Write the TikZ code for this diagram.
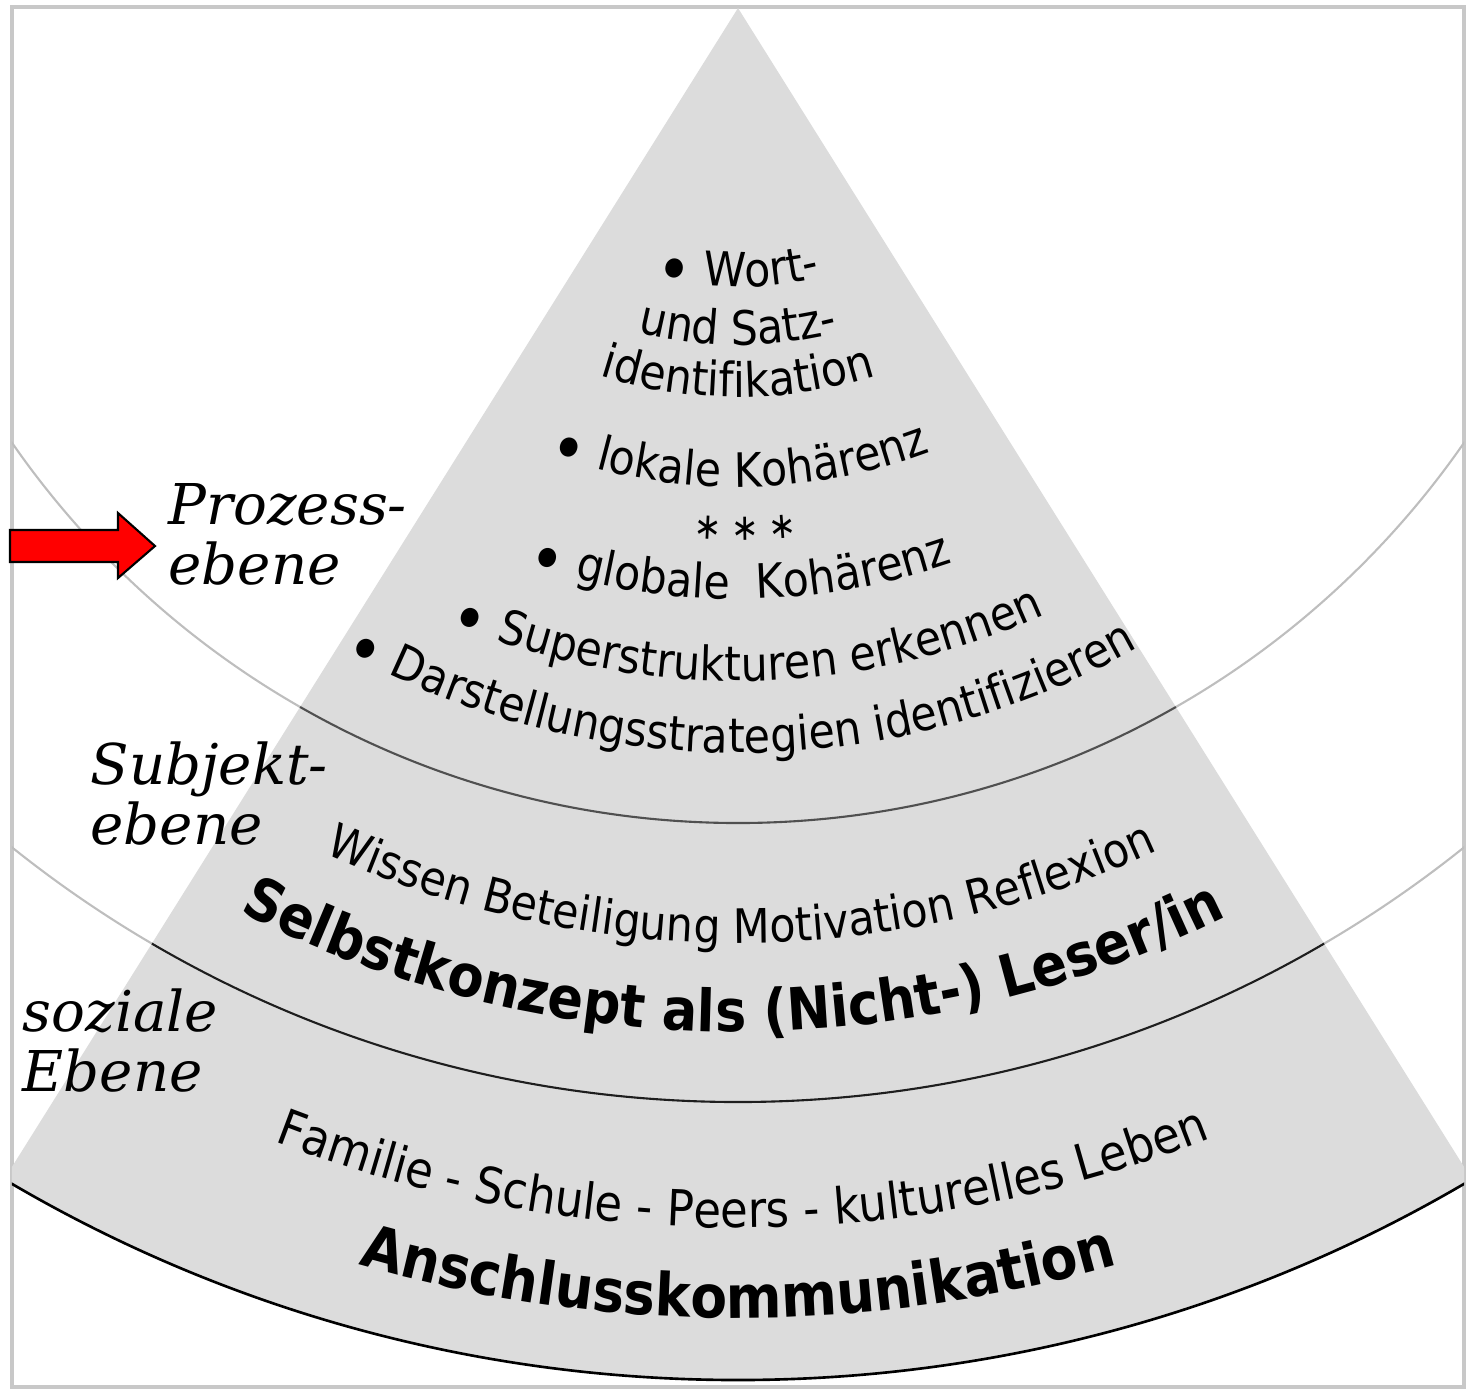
\documentclass[tikz,border=0pt]{standalone}
\usepackage{fontspec}
\newfontfamily\fansans[FakeStretch=0.9]{DejaVu Sans}
\newfontfamily\fanserif{DejaVu Serif}
\usetikzlibrary{decorations.text}
\definecolor{fanfill}{RGB}{220,220,220}
\definecolor{framegray}{RGB}{200,200,200}
\definecolor{arcout}{RGB}{190,190,190}
\definecolor{arcone}{RGB}{80,80,80}
\definecolor{arctwo}{RGB}{30,30,30}
\newcommand{\listfont}{\fansans\fontsize{13.5}{15}\selectfont}
\newcommand{\starfont}{\fansans\fontsize{10.5}{12}\selectfont}
\newcommand{\socfont}{\fansans\fontsize{14.2}{16}\selectfont}
\newcommand{\keyfont}{\fansans\bfseries\fontsize{16.6}{18}\selectfont}
\newcommand{\basefont}{\fansans\bfseries\fontsize{16.9}{18}\selectfont}
\newcommand{\fanbullet}{\raisebox{-3.6pt}{\fontsize{19}{19}\selectfont•}}
% text along an arc round (C): [angle shift]{radius}{font}{text}
\newcommand{\fantext}[4][0]{%
  \path[decorate, decoration={text along path, text align=center, text={|#3|#4}}]
    (C) ++(240+#1:#2) arc[start angle=240+#1, end angle=300+#1, radius=#2];}
\tikzset{
  levellabel/.style={anchor=north west, inner sep=0pt, align=left,
    font=\fanserif\itshape\fontsize{16}{17}\selectfont},
  arrowbox/.style={fill=red, draw=black, line width=0.6pt},
}
\begin{document}
\begin{tikzpicture}
\useasboundingbox (0,0) rectangle (14.66,-13.90);
\coordinate (C) at (7.38,0.60);
\coordinate (apex) at (7.38,-0.08);
\draw [framegray, line width=1pt] (0.12,-0.07) rectangle (14.64,-13.87);

\begin{scope}
\clip (0.12,-0.07) rectangle (14.64,-13.87);
\draw [arcout, line width=0.6pt] (C) circle (8.83) (C) circle (11.62);
\begin{scope}
\clip (apex) -- (-2.97,-16.60) -- (17.73,-16.60) -- cycle;
\fill [fanfill] (C) circle (14.40);
\draw [arcone, line width=0.6pt] (C) circle (8.83);
\draw [arctwo, line width=0.6pt] (C) circle (11.62);
\draw [black, line width=0.75pt] (C) circle (14.40);
\end{scope}
\end{scope}

% Prozessebene
\fantext{3.47}{\listfont}{{\fanbullet} Wort-}
\fantext{4.05}{\listfont}{und Satz-}
\fantext{4.57}{\listfont}{identifikation}
\fantext[0.2]{5.47}{\listfont}{{\fanbullet} lokale Kohärenz}
\fantext[0.7]{6.00}{\starfont}{∗ ∗ ∗}
\fantext[0.2]{6.59}{\listfont}{{\fanbullet} globale{\ } Kohärenz}
\fantext[0.8]{7.41}{\listfont}{{\fanbullet} Superstrukturen erkennen}
\fantext[0.25]{8.13}{\listfont}{{\fanbullet} Darstellungsstrategien identifizieren}
% Subjektebene
\fantext[0.2]{10.03}{\listfont}{Wissen Beteiligung Motivation Reflexion}
\fantext[-0.3]{10.92}{\keyfont}{Selbstkonzept als (Nicht-) Leser/in}
% soziale Ebene
\fantext[0.2]{12.88}{\socfont}{Familie - Schule - Peers - kulturelles Leben}
\fantext{13.78}{\basefont}{Anschlusskommunikation}

\node [levellabel] (prozess) at (1.68,-4.83) {Prozess-\\ebene};
\node [levellabel] (subjekt) at (0.90,-7.41) {Subjekt-\\ebene};
\node [levellabel] (sozial) at (0.22,-9.88) {soziale\\Ebene};

\draw [arrowbox] (0.10,-5.30) -- (1.18,-5.30) -- (1.18,-5.13) -- (1.55,-5.46)
  -- (1.18,-5.78) -- (1.18,-5.62) -- (0.10,-5.62) -- cycle;
\end{tikzpicture}
\end{document}
